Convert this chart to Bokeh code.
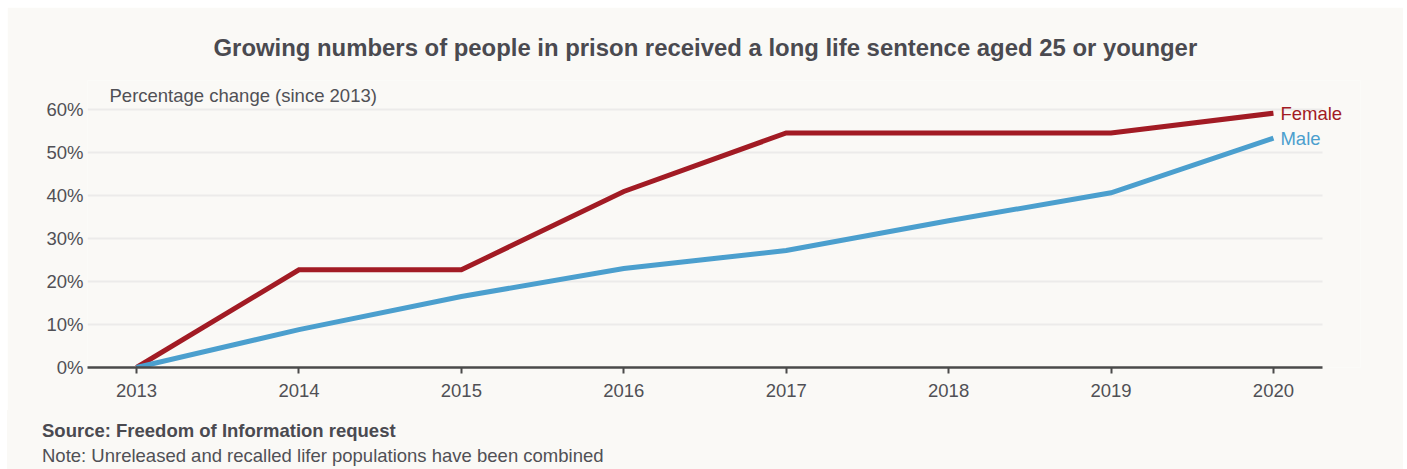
from bokeh.plotting import figure
from bokeh.models import Label, Range1d, FixedTicker, CustomJSTickFormatter, Title, Div
from bokeh.layouts import column
from bokeh.embed import file_html
from bokeh.resources import INLINE

years = [2013, 2014, 2015, 2016, 2017, 2018, 2019, 2020]
female = [0, 22.7, 22.7, 40.9, 54.5, 54.5, 54.5, 59.1]
male = [0, 8.8, 16.5, 23.0, 27.2, 34.1, 40.6, 53.3]
y_ticks = [0, 10, 20, 30, 40, 50, 60]
series = [("Female", female, "#a21b24"), ("Male", male, "#4b9fce")]

title_text = "Growing numbers of people in prison received a long life sentence aged 25 or younger"
ylabel_text = "Percentage change (since 2013)"
source_text = "Source: Freedom of Information request"
note_text = "Note: Unreleased and recalled lifer populations have been combined"

BG = "#faf9f6"
TXT = "#505055"
FONT = "Liberation Sans"
FS = "18.5px"

X0, X1 = 2012.698, 2020.30

p = figure(width=1396, height=403, output_backend="svg", toolbar_location=None,
           x_range=Range1d(X0, 2020.536), y_range=Range1d(0, 66.7),
           min_border_left=80, min_border_right=43, min_border_top=73, min_border_bottom=43,
           background_fill_color=BG, border_fill_color=BG, outline_line_color=None)
p.margin = (0, 0, 0, 0)

p.xgrid.grid_line_color = None
p.ygrid.grid_line_color = "#ecebea"
p.ygrid.grid_line_width = 2
p.ygrid.ticker = FixedTicker(ticks=y_ticks)
p.ygrid.cross_bounds = (X0, X1)

p.xaxis.ticker = FixedTicker(ticks=years)
p.xaxis.bounds = (X0, X1)
p.xaxis.axis_line_color = "#4a4a4a"
p.xaxis.axis_line_width = 2.5
p.xaxis.major_tick_line_color = "#4a4a4a"
p.xaxis.major_tick_line_width = 2
p.xaxis.major_tick_out = 6
p.xaxis.major_tick_in = 0
p.xaxis.minor_tick_line_color = None
p.xaxis.major_label_text_font = FONT
p.xaxis.major_label_text_font_size = FS
p.xaxis.major_label_text_color = TXT
p.xaxis.major_label_standoff = 10

p.yaxis.ticker = FixedTicker(ticks=y_ticks)
p.yaxis.formatter = CustomJSTickFormatter(code="return tick + '%';")
p.yaxis.axis_line_color = None
p.yaxis.major_tick_line_color = None
p.yaxis.major_tick_out = 0
p.yaxis.major_tick_in = 0
p.yaxis.minor_tick_line_color = None
p.yaxis.major_label_text_font = FONT
p.yaxis.major_label_text_font_size = FS
p.yaxis.major_label_text_color = TXT
p.yaxis.major_label_standoff = 4

for name, vals, col in series:
    p.line(years, vals, line_color=col, line_width=5, line_join="miter")
    p.add_layout(Label(x=years[-1], y=vals[-1], text=name, x_offset=7,
                       text_baseline="middle", text_color=col,
                       text_font=FONT, text_font_size=FS))

p.add_layout(Label(x=X0, y=60, text=ylabel_text, x_offset=22, y_offset=3,
                   text_baseline="bottom", text_color=TXT,
                   text_font=FONT, text_font_size=FS))

p.add_layout(Title(text=title_text, align="left", offset=126, text_color="#4a4a50",
                   text_font=FONT, text_font_size="23.9px", text_font_style="bold",
                   standoff=39), "above")

footer_html = (
    f'<div style="padding:7.5px 0 0 35px; font-family:\'{FONT}\'; font-size:18.5px; '
    f'line-height:25px; color:{TXT}; white-space:nowrap;">'
    f'<div style="font-weight:bold; color:#4a4a50;">{source_text}</div>'
    f'<div>{note_text}</div></div>'
)
footer = Div(text=footer_html, width=1396, height=59, margin=(0, 0, 0, 0),
             styles={"background-color": BG})

layout = column(p, footer, spacing=0, margin=(7, 4, 0, 7))

open("out.html", "w").write(file_html(layout, INLINE))
